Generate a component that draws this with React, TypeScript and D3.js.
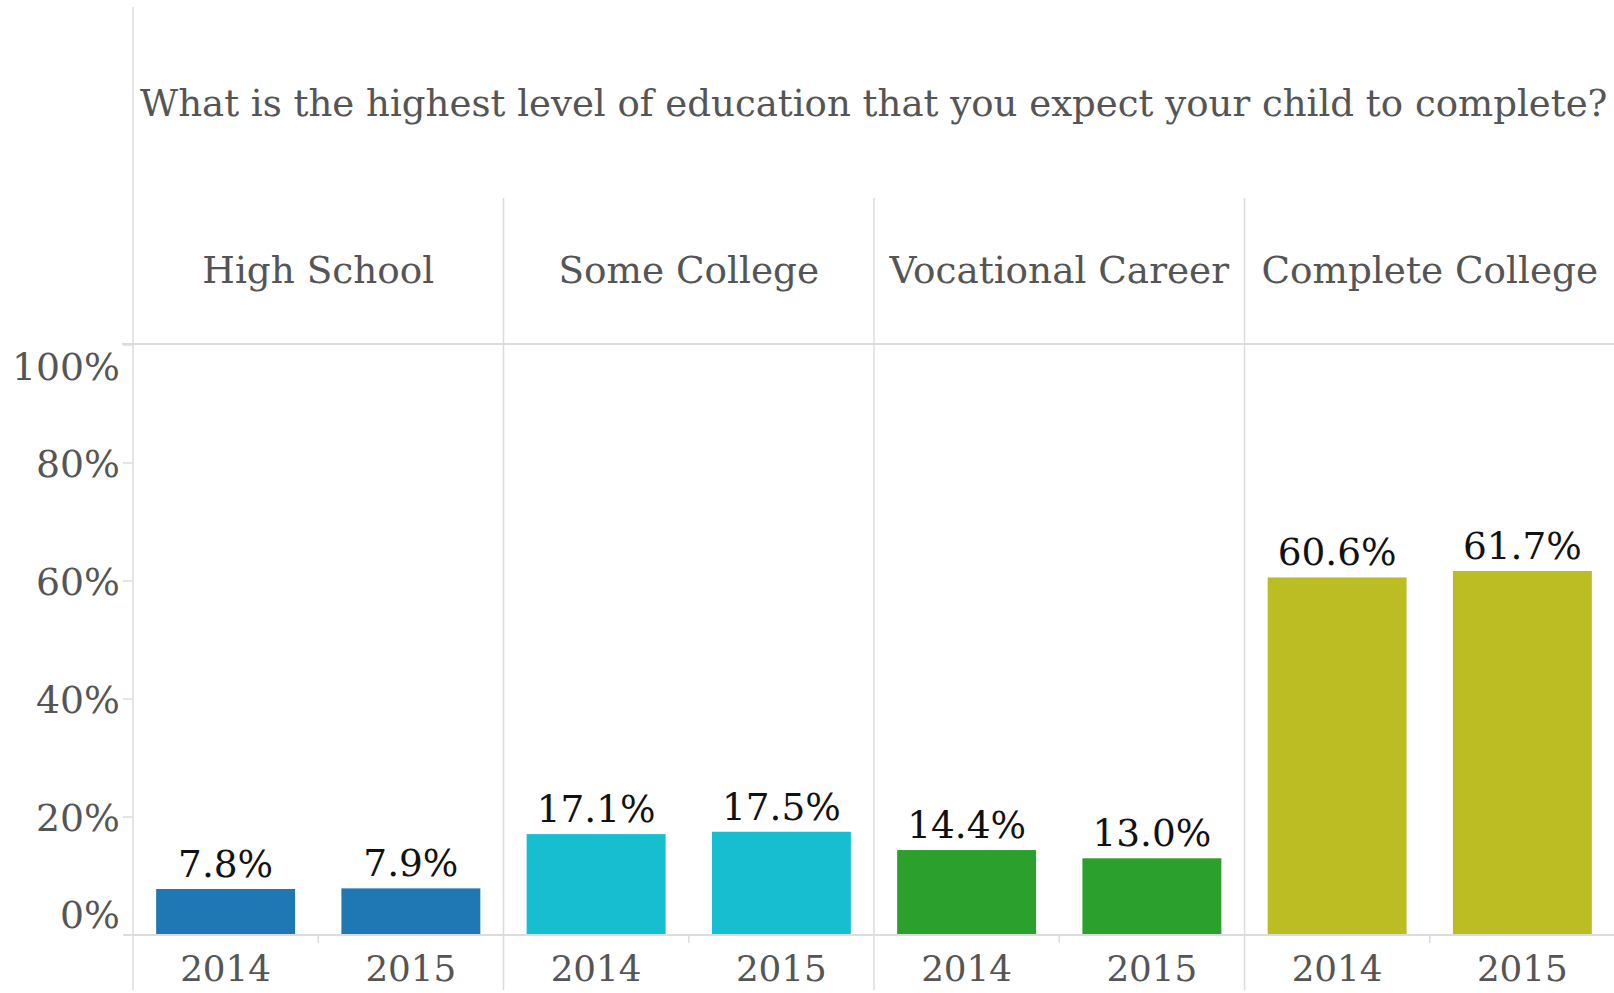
import React from "react";
import * as d3 from "d3";

const title = "What is the highest level of education that you expect your child to complete?";
const categories = ["High School", "Some College", "Vocational Career", "Complete College"];
const years = ["2014", "2015"];
const values2014 = [7.8, 17.1, 14.4, 60.6];
const values2015 = [7.9, 17.5, 13.0, 61.7];
const colors = ["#1f77b4", "#17becf", "#2ca02c", "#bcbd22"];
const yTicks = [0, 20, 40, 60, 80, 100];

const FONT = "DejaVu Serif";

function fitSize(text: string, target: number): number {
  if (typeof document === "undefined") return 30;
  const c = document.createElement("canvas");
  const ctx = c.getContext("2d");
  if (!ctx) return 30;
  ctx.font = `100px "${FONT}"`;
  const w = ctx.measureText(text).width;
  return (target / w) * 100;
}

export default function App() {
  const W = 1614;
  const H = 993;
  const left = 133;
  const right = 1615;
  const y0 = 935;
  const y1 = 345;
  const headerTop = 198;

  const x = d3.scaleBand<string>().domain(categories).range([left, right]).padding(0);
  const xi = d3
    .scaleBand<string>()
    .domain(years)
    .range([0, x.bandwidth()])
    .paddingInner(0.25)
    .paddingOuter(0.125);
  const y = d3.scaleLinear().domain([0, 100]).range([y0, y1]);

  const titleSize = fitSize(title, 1468);
  const headerSize = fitSize("High School", 232);
  const labelSize = fitSize("60.6%", 119);
  const yearSize = fitSize("2014", 91);
  const tickSize = fitSize("80%", 84);

  const textGray = "#555555";
  const lineGray = "#dcdcdc";

  const rows = categories.flatMap((c, i) => [
    { cat: c, year: years[0], v: values2014[i], color: colors[i] },
    { cat: c, year: years[1], v: values2015[i], color: colors[i] },
  ]);

  return (
    <svg
      width={W}
      height={H}
      style={{ position: "absolute", left: 0, top: 0, background: "#fff" }}
      fontFamily={FONT}
    >
      <rect x={0} y={0} width={W} height={H} fill="#fff" />
      {/* title */}
      <text x={140} y={116} fontSize={titleSize} fill={textGray}>
        {title}
      </text>

      {/* left axis line */}
      <line x1={left} x2={left} y1={7} y2={990} stroke={lineGray} strokeWidth={1.5} />
      {/* panel separators */}
      {categories.slice(1).map((c) => (
        <line
          key={c}
          x1={x(c)!}
          x2={x(c)!}
          y1={headerTop}
          y2={990}
          stroke={lineGray}
          strokeWidth={1.5}
        />
      ))}
      {/* header bottom line */}
      <line x1={122} x2={W} y1={y1 - 1} y2={y1 - 1} stroke={lineGray} strokeWidth={2} />

      {/* headers */}
      {categories.map((c) => (
        <text
          key={c}
          x={x(c)! + x.bandwidth() / 2}
          y={283}
          fontSize={headerSize}
          fill={textGray}
          textAnchor="middle"
        >
          {c}
        </text>
      ))}

      {/* y ticks */}
      {yTicks.map((t) => {
        const yy = y(t);
        const shift = t === 0 ? -21 : t === 100 ? 21 : 0;
        return (
          <g key={t}>
            <line x1={123} x2={left} y1={yy} y2={yy} stroke={lineGray} strokeWidth={1.5} />
            <text
              x={120}
              y={yy + shift + tickSize * 0.36}
              fontSize={tickSize}
              fill={textGray}
              textAnchor="end"
            >
              {`${t}%`}
            </text>
          </g>
        );
      })}

      {/* bars */}
      {rows.map((r) => {
        const bx = x(r.cat)! + xi(r.year)!;
        const by = y(r.v);
        return (
          <g key={r.cat + r.year}>
            <rect x={bx} y={by} width={xi.bandwidth()} height={y0 - by} fill={r.color} />
            <text
              x={bx + xi.bandwidth() / 2}
              y={by - 12}
              fontSize={labelSize}
              fill="#111"
              textAnchor="middle"
            >
              {`${r.v.toFixed(1)}%`}
            </text>
          </g>
        );
      })}

      {/* baseline */}
      <line x1={124} x2={W} y1={y0} y2={y0} stroke={lineGray} strokeWidth={2} />

      {/* year ticks and labels */}
      {categories.map((c) => (
        <g key={c}>
          <line
            x1={x(c)! + x.bandwidth() / 2}
            x2={x(c)! + x.bandwidth() / 2}
            y1={y0}
            y2={943}
            stroke={lineGray}
            strokeWidth={1.5}
          />
          {years.map((yr) => (
            <text
              key={yr}
              x={x(c)! + xi(yr)! + xi.bandwidth() / 2}
              y={981}
              fontSize={yearSize}
              fill={textGray}
              textAnchor="middle"
            >
              {yr}
            </text>
          ))}
        </g>
      ))}
    </svg>
  );
}
